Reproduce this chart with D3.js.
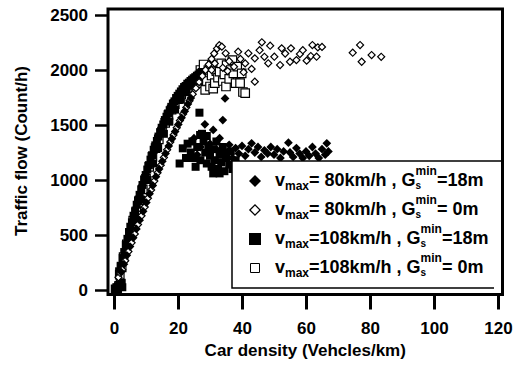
<!DOCTYPE html>
<html>
<head>
<meta charset="utf-8">
<script src="https://cdn.jsdelivr.net/npm/d3@7"></script>
<style>
  html, body { margin: 0; padding: 0; background: #fff; }
  svg { display: block; }
  text { font-family: "Liberation Sans", Arial, sans-serif; font-weight: bold; fill: #000; }
</style>
</head>
<body>
<svg id="chart" width="518" height="365"></svg>
<script>
// ---------- data ----------
const densityTicks = [0, 20, 40, 60, 80, 100, 120];
const flowTicks = [0, 500, 1000, 1500, 2000, 2500];
const xTitle = "Car density (Vehcles/km)";
const yTitle = "Traffic flow (Count/h)";
const legendSpeed = ["= 80km/h , G", "= 80km/h , G", "=108km/h , G", "=108km/h , G"];
const legendGap = ["=18m", "= 0m", "=18m", "= 0m"];

// vmax = 108 km/h, Gs_min = 0 m (open squares)  [density, flow]
const sq0 = [
  [0.5,5],[1.0,18],[1.6,38],[2.1,58],[1.8,140],[2.4,205],[3.0,300],[4.0,415],[5.0,520],[6.0,630],
  [7.0,715],[8.0,815],[9.0,915],[10.0,1010],[11.0,1120],[12.0,1210],[13.0,1290],[14.0,1370],
  [15.0,1440],[16.0,1520],[17.0,1590],[18.0,1640],[19.0,1690],[20.0,1735],[21.0,1775],[22.0,1805],
  [23.0,1835],[24.0,1865],[25.0,1895],
  [26.0,1880],[27.0,2000],[28.0,2050],[28.5,1820],[29.0,1900],[29.5,2000],[30.0,1850],[30.5,1950],
  [31.0,2040],[31.0,1830],[31.5,1880],[32.0,1990],[32.5,1930],[33.0,1985],[33.5,2060],[34.0,1900],
  [34.5,1960],[35.0,1850],[35.2,2045],[36.0,1920],[36.5,2000],[37.0,2090],[37.3,1970],[38.0,1880],
  [38.5,2030],[39.4,1880],[39.9,1970],[40.3,1800],[41.0,1790]
];

// vmax = 108 km/h, Gs_min = 18 m (filled squares)
const sq18 = [
  [0.4,8],[0.9,22],[1.3,35],[1.8,50],[2.3,62],[1.2,0],[2.6,25],
  [1.6,170],[2.1,220],[2.7,290],[3.2,345],[3.7,410],[4.2,465],[4.7,525],[5.1,575],[5.6,615],
  [6.1,675],[6.6,715],[7.1,775],[7.5,815],[8.0,865],[8.5,915],[8.9,955],[9.4,1005],[9.9,1045],
  [10.4,1095],[10.9,1135],[11.4,1185],[11.9,1225],[12.4,1275],[12.9,1315],[13.4,1355],[13.9,1395],
  [14.4,1435],[14.9,1475],[15.4,1505],[15.9,1545],[16.4,1575],[16.9,1605],[17.4,1635],[17.9,1665],
  [18.4,1695],[18.9,1715],[19.4,1745],[19.9,1765],[20.4,1785],[20.9,1805],[21.4,1825],[21.9,1845],
  [22.4,1855],[22.9,1875],[23.4,1885],[23.9,1900],[24.4,1912],[24.9,1925],[25.4,1935],[25.9,1948],
  [26.4,1958],[26.9,1972],[27.4,1982],
  [6.8,640],[8.6,820],[10.5,1000],[12.2,1150],[13.8,1290],[15.6,1420],[17.3,1530],[19.1,1640],
  [20.9,1730],[22.7,1800],[24.6,1860],[26.2,1900],
  [26.7,1612],[26.9,1409],[21.5,1288],[20.5,1150],[22.5,1200],[23.0,1330],[24.0,1250],[24.5,1350],
  [25.0,1200],[25.5,1120],[26.0,1300],[27.0,1180],[27.5,1420],[28.0,1350],[28.5,1250],[29.0,1150],
  [29.0,1400],[29.5,1300],[30.0,1220],[30.5,1120],[31.0,1280],[31.0,1060],[31.5,1180],[32.0,1350],
  [32.5,1100],[33.0,1230],[33.0,1060],[33.5,1160],[34.0,1300],[34.5,1080],[35.0,1200],[36.0,1140],
  [36.5,1260],[37.0,1100],[38.0,1180],[39.0,1060]
];

// vmax = 80 km/h, Gs_min = 18 m (filled diamonds)
const dia18 = [
  [0.6,12],[1.1,28],[1.7,48],[2.4,38],[2.2,165],[3.1,235],[4.0,315],[5.0,395],[6.0,475],[7.0,555],
  [8.0,635],[9.1,715],[10.1,795],[11.1,875],[12.1,950],[13.1,1030],[14.1,1100],[15.1,1170],
  [16.1,1240],[17.1,1310],[18.1,1375],[19.1,1440],[20.1,1505],[21.1,1565],[22.1,1625],[23.1,1690],
  [24.0,1745],
  [34.7,1742],[34.0,1545],[28.4,1506],[31.0,1455],[25.0,1380],[26.0,1230],[27.0,1300],[29.0,1250],
  [30.0,1330],[32.0,1280],[33.0,1380],[35.0,1250],[36.0,1320],[37.0,1200],[38.0,1290],[39.0,1240],
  [40.0,1310],[41.0,1220],[42.0,1280],[43.0,1333],[44.0,1250],[45.0,1300],[46.0,1210],[47.0,1270],
  [48.0,1240],[49.0,1300],[50.0,1230],[51.0,1280],[52.0,1200],[53.0,1260],[54.5,1339],[55.0,1250],
  [56.0,1210],[57.0,1290],[58.0,1240],[59.0,1200],[60.0,1260],[61.0,1220],[62.0,1300],[63.0,1240],
  [64.0,1200],[65.0,1280],[66.0,1230],[66.5,1333],[67.0,1260]
];

// vmax = 80 km/h, Gs_min = 0 m (open diamonds)
const dia0 = [
  [1.4,115],[1.9,155],[2.6,185],[3.5,265],[4.5,350],[5.5,430],[6.5,510],[7.5,595],[8.6,675],
  [9.6,755],[10.6,835],[11.6,910],[12.6,990],[13.6,1065],[14.6,1135],[15.6,1205],[16.6,1275],
  [17.6,1345],[18.6,1410],[19.6,1475],[20.6,1540],[21.6,1600],[22.6,1660],[23.6,1720],[24.6,1780],
  [25.6,1835],[26.6,1890],[27.6,1945],[28.6,2000],[29.6,2050],[30.5,2100],[31.3,2150],[32.2,2195],
  [32.9,2225],
  [30.5,2000],[31.5,2060],[33.7,2212],[34.0,2020],[34.9,2152],[35.5,1990],[36.0,2080],[37.5,2030],
  [38.8,2166],[39.5,2100],[40.5,1980],[41.0,2060],[42.0,2152],[43.0,2010],[44.0,1894],[44.0,2106],
  [45.5,2180],[46.2,2252],[47.0,2120],[48.2,2061],[48.8,2221],[50.1,2121],[51.9,2045],[52.4,2197],
  [53.5,2150],[55.0,2075],[55.3,2197],[57.0,2090],[58.1,2145],[59.0,2180],[60.2,2085],[61.5,2127],
  [62.0,2227],[63.3,2121],[63.7,2206],[65.0,2210],[74.6,2157],[76.9,2227],[77.4,2075],[80.5,2136],
  [83.5,2120]
];

// ---------- layout ----------
const svg = d3.select("#chart");
const x = d3.scaleLinear().domain([0, 120]).range([114, 498]);
const y = d3.scaleLinear().domain([0, 2500]).range([290, 15]);
const frame = { left: 108, right: 502.5, top: 9, bottom: 294.5 };

const sym = (side) => d3.symbol().type(d3.symbolSquare).size(side * side)();

const series = [
  { data: sq0,   side: 8.5, rot: 0,  fill: "#fff", stroke: "#000", sw: 1.2 },
  { data: sq18,  side: 8,   rot: 0,  fill: "#000", stroke: "none", sw: 0 },
  { data: dia0,  side: 5,   rot: 45, fill: "#fff", stroke: "#000", sw: 1.2 },
  { data: dia18, side: 6.2, rot: 45, fill: "#000", stroke: "none", sw: 0 }
];

const plot = svg.append("g");
series.forEach(s => {
  plot.append("g").selectAll("path").data(s.data).join("path")
    .attr("d", sym(s.side))
    .attr("transform", d => `translate(${x(d[0])},${y(d[1])}) rotate(${s.rot})`)
    .attr("fill", s.fill)
    .attr("stroke", s.stroke)
    .attr("stroke-width", s.sw);
});

// frame
svg.append("rect")
  .attr("x", frame.left).attr("y", frame.top)
  .attr("width", frame.right - frame.left).attr("height", frame.bottom - frame.top)
  .attr("fill", "none").attr("stroke", "#000").attr("stroke-width", 3);

// axes
const xAxis = svg.append("g").attr("transform", `translate(0,${frame.bottom + 1})`)
  .call(d3.axisBottom(x).tickValues(densityTicks).tickSize(14).tickPadding(12).tickFormat(d3.format("d")));
const yAxis = svg.append("g").attr("transform", `translate(${frame.left},0)`)
  .call(d3.axisLeft(y).tickValues(flowTicks).tickSize(13).tickPadding(7).tickFormat(d3.format("d")));
[xAxis, yAxis].forEach(a => {
  a.select(".domain").remove();
  a.selectAll(".tick line").attr("stroke", "#000").attr("stroke-width", 3);
  a.selectAll(".tick text").attr("fill", "#000")
    .style("font-family", '"Liberation Sans", Arial, sans-serif')
    .style("font-weight", "bold").style("font-size", "17px");
});
yAxis.selectAll(".tick line").attr("stroke-width", 2.5);

// axis titles
svg.append("text").attr("x", (frame.left + frame.right) / 2).attr("y", 356)
  .attr("text-anchor", "middle").style("font-size", "17px").text(xTitle);
svg.append("text").attr("transform", "translate(27,151) rotate(-90)")
  .attr("text-anchor", "middle").style("font-size", "17px").text(yTitle);

// legend
const lg = { left: 232, top: 161, right: 494, bottom: 288 };
const legend = svg.append("g");
legend.append("rect").attr("x", lg.left).attr("y", lg.top)
  .attr("width", frame.right - 1.5 - lg.left).attr("height", lg.bottom - lg.top)
  .attr("fill", "#fff");
legend.append("path")
  .attr("d", `M${frame.right - 1.5},${lg.top}H${lg.left}V${lg.bottom}H${lg.right}`)
  .attr("fill", "none").attr("stroke", "#000").attr("stroke-width", 1.5);

const legendMarkers = [
  { side: 8.5, rot: 45, fill: "#000", stroke: "none", sw: 0 },
  { side: 7.2, rot: 45, fill: "#fff", stroke: "#000", sw: 1.3 },
  { side: 12,  rot: 0,  fill: "#000", stroke: "none", sw: 0 },
  { side: 9,   rot: 0,  fill: "#fff", stroke: "#000", sw: 1 }
];
const rowBase = [186, 215, 244, 273];

legendSpeed.forEach((sp, i) => {
  const b = rowBase[i];
  const m = legendMarkers[i];
  legend.append("path").attr("d", sym(m.side))
    .attr("transform", `translate(255,${b - 5}) rotate(${m.rot})`)
    .attr("fill", m.fill).attr("stroke", m.stroke).attr("stroke-width", m.sw);

  let cx = 275;
  const seg = (txt, size, dy) => {
    const t = legend.append("text").attr("x", cx).attr("y", b + dy)
      .style("font-size", size + "px").text(txt);
    return t.node().getComputedTextLength();
  };
  cx += seg("v", 18, 0);
  cx += seg("max", 12, 4);
  cx += seg(sp, 18, 0);
  const w1 = seg("s", 10, 3);
  const w2 = seg("min", 12, -11);
  cx += Math.max(w1, w2);
  seg(legendGap[i], 18, 0);
});
</script>
</body>
</html>
